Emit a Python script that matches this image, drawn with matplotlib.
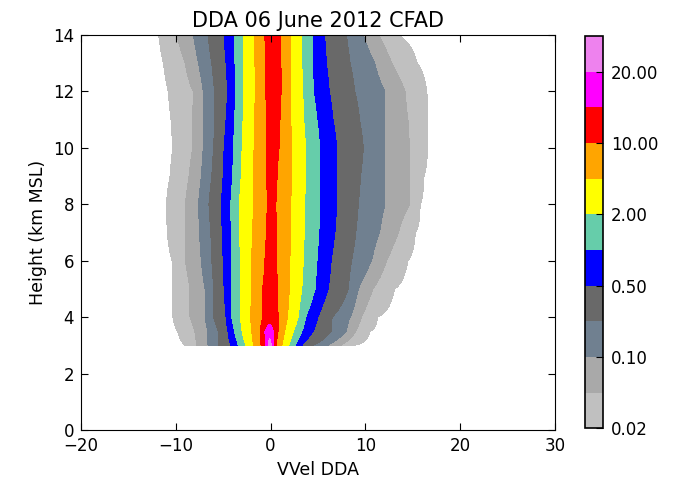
"""
CFAD de la vitesse verticale DDA - 06 juin 2012
"""
import numpy as np
import matplotlib.pyplot as plt

# Niveaux de contour (frequence, %) et couleurs
levels = [0.02, 0.05, 0.1, 0.2, 0.5, 1, 2, 5, 10, 15, 20, 25]
colors = ['silver', 'darkgray', 'slategray', 'dimgray', 'blue',
          'mediumaquamarine', 'yellow', 'orange', 'red', 'magenta', 'violet']
cbar_ticks = [0.02, 0.1, 0.5, 2, 10, 20]

# Altitudes (km MSL) des profils
heights = [3.0, 3.5, 4.0, 5.0, 6.0, 7.0, 8.0, 9.0, 10.0, 11.0, 12.0, 13.0, 14.0]

# Valeur maximale de chaque profil
peak = [23, 18, 13, 12, 12, 12, 12, 12, 12, 12, 12, 12, 12]

# Bords gauche / droit (m/s) de chaque niveau, pour chaque altitude (nan = absent)
nan = np.nan
left_002 = [-9.0, -9.8, -10.3, -10.3, -10.4, -10.9, -11.0, -10.6, -10.3, -10.5, -10.8, -11.3, -11.8]
right_002 = [8.6, 10.5, 11.3, 13.1, 14.5, 15.3, 15.8, 16.2, 16.6, 16.6, 16.5, 15.5, 13.5]
left_005 = [-7.8, -8.0, -8.5, -8.5, -9.0, -9.0, -9.0, -8.6, -8.2, -8.2, -8.15, -9.0, -9.9]
right_005 = [7.4, 9.0, 9.6, 10.8, 12.25, 13.5, 14.7, 14.7, 14.7, 14.5, 14.2, 12.8, 11.4]
left_01 = [-6.6, -6.6, -6.9, -6.9, -7.3, -7.5, -7.6, -7.3, -7.1, -7.1, -7.1, -7.6, -8.15]
right_01 = [6.0, 8.0, 8.4, 9.25, 10.66, 11.5, 12.07, 12.07, 12.07, 12.07, 12.07, 11.0, 9.8]
left_02 = [-5.5, -5.5, -6.0, -6.0, -6.2, -6.3, -6.5, -6.2, -6.0, -5.9, -5.9, -6.2, -6.6]
right_02 = [4.5, 6.4, 6.5, 8.2, 8.55, 9.0, 9.25, 9.5, 9.8, 9.4, 8.9, 8.4, 8.0]
left_05 = [-4.2, -4.5, -4.7, -4.9, -5.0, -5.1, -5.2, -5.0, -4.9, -4.7, -4.5, -4.7, -4.9]
right_05 = [3.3, 4.5, 5.0, 6.1, 6.4, 6.8, 7.0, 7.0, 7.0, 6.6, 6.2, 5.9, 5.7]
left_1 = [-3.4, -3.8, -4.1, -4.1, -4.1, -4.15, -4.2, -4.0, -3.9, -3.8, -3.65, -3.75, -3.85]
right_1 = [2.6, 3.3, 3.7, 4.7, 4.9, 5.1, 5.2, 5.2, 5.2, 4.9, 4.5, 4.45, 4.4]
left_2 = [-2.6, -3.0, -3.2, -3.2, -3.2, -3.25, -3.3, -3.1, -3.0, -2.9, -2.8, -2.85, -2.9]
right_2 = [1.9, 2.4, 2.9, 3.3, 3.45, 3.55, 3.6, 3.7, 3.7, 3.5, 3.4, 3.3, 3.3]
left_5 = [-1.8, -2.0, -2.1, -2.0, -2.0, -1.9, -1.8, -1.8, -1.75, -1.7, -1.6, -1.65, -1.7]
right_5 = [1.2, 1.5, 1.8, 2.0, 2.05, 2.1, 2.15, 2.2, 2.2, 2.15, 2.1, 2.1, 2.15]
left_10 = [-1.0, -1.1, -0.8, -0.85, -0.6, -0.45, -0.35, -0.4, -0.4, -0.45, -0.5, -0.55, -0.6]
right_10 = [0.6, 0.8, 0.8, 0.75, 0.65, 0.6, 0.57, 0.7, 0.9, 1.0, 1.15, 1.1, 1.1]
left_15 = [-0.5, -0.6] + [nan] * 11
right_15 = [0.3, 0.3] + [nan] * 11
left_20 = [-0.25] + [nan] * 12
right_20 = [0.1] + [nan] * 12

lefts = [left_002, left_005, left_01, left_02, left_05, left_1, left_2,
         left_5, left_10, left_15, left_20]
rights = [right_002, right_005, right_01, right_02, right_05, right_1, right_2,
          right_5, right_10, right_15, right_20]

# Reconstruire le champ 2D (interpolation en log le long de chaque profil)
vvel = np.arange(-20, 30.01, 0.1)
field = np.zeros((len(heights), len(vvel)))
for i in range(len(heights)):
    xs_l, xs_r, vals = [], [], []
    for k in range(len(lefts)):
        if not np.isnan(lefts[k][i]):
            xs_l.append(lefts[k][i])
            xs_r.append(rights[k][i])
            vals.append(levels[k])
    center = 0.5 * (xs_l[-1] + xs_r[-1])
    xs = [-20] + xs_l + [center] + xs_r[::-1] + [30]
    ys = [0.001] + vals + [peak[i]] + vals[::-1] + [0.001]
    field[i] = np.exp(np.interp(vvel, xs, np.log(ys)))

fig = plt.figure(figsize=(6.75, 4.8), dpi=100)
ax = fig.add_axes([0.12, 0.104, 0.702, 0.823])
cax = fig.add_axes([0.867, 0.108, 0.026, 0.817])

cf = ax.contourf(vvel, heights, field, levels=levels, colors=colors)
ax.set_xlim(-20, 30)
ax.set_ylim(0, 14)
ax.set_xticks([-20, -10, 0, 10, 20, 30])
ax.set_yticks([0, 2, 4, 6, 8, 10, 12, 14])
ax.tick_params(direction='in', top=True, right=True, length=5, labelsize=12, pad=5)
ax.set_xlabel('VVel DDA', fontsize=12.5)
ax.set_ylabel('Height (km MSL)', fontsize=12.5)
ax.set_title('DDA 06 June 2012 CFAD', fontsize=15)

cb = fig.colorbar(cf, cax=cax, ticks=cbar_ticks, format='%.2f')
cb.ax.tick_params(direction='in', length=5, labelsize=12, pad=6)
cb.outline.set_linewidth(1.2)

plt.savefig('out.png', dpi=100)
